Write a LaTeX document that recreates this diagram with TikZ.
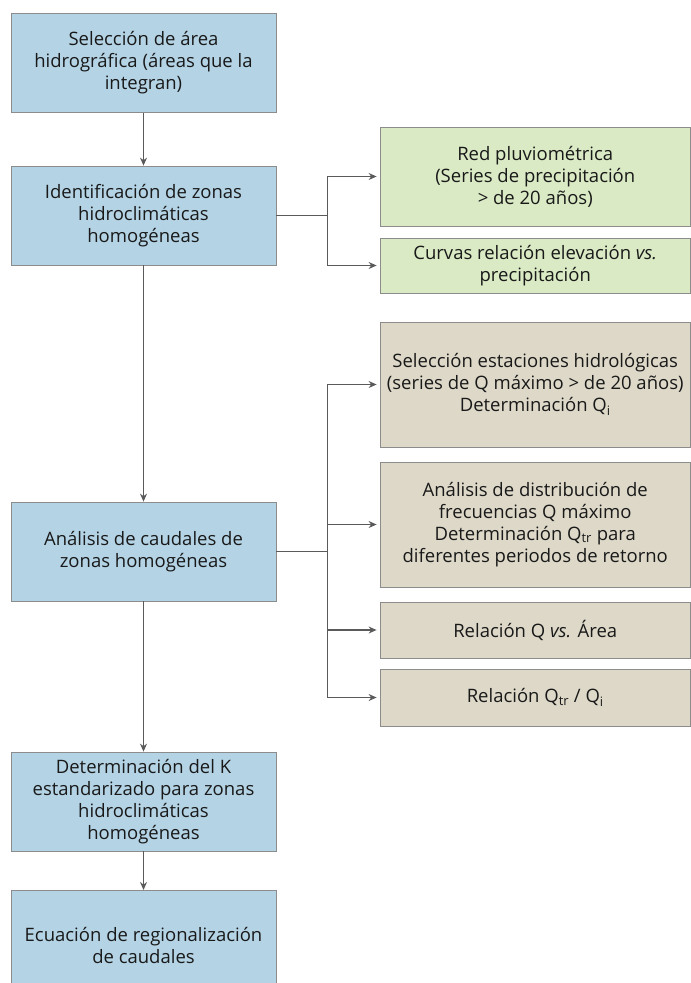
\documentclass[tikz,border=0pt]{standalone}
\usepackage{fontspec}
\setmainfont{Open Sans}
\usetikzlibrary{positioning,arrows.meta}
\definecolor{cajaazul}{RGB}{180,212,230}
\definecolor{cajaverde}{RGB}{217,234,196}
\definecolor{cajaarena}{RGB}{221,216,200}
\definecolor{borde}{RGB}{140,140,140}
\definecolor{flecha}{RGB}{90,90,90}

\begin{document}
\begin{tikzpicture}[x=1pt,y=-1pt,->,>={Stealth[length=8pt,width=7pt]},
        line width=1.1pt, flecha,
        main node/.style={draw=borde, line width=0.8pt, fill=cajaazul, text=black!90,
            rectangle, align=center, minimum width=265pt, minimum height=99pt, inner sep=0pt,
            font=\fontsize{18.5}{22}\selectfont},
        side node/.style={main node, minimum width=310.5pt}]

\clip (0,0) rectangle (691,983);

\node[main node] (1) at (143.5,63) {Selección de área\\hidrográfica (áreas que la\\integran)};
\node[main node] (2) at (143.5,215.5) {Identificación de zonas\\hidroclimáticas\\homogéneas};
\node[main node] (3) at (143.5,551.5) {Análisis de caudales de\\zonas homogéneas};
\node[main node] (4) at (143.5,801.5) {Determinación del K\\estandarizado para zonas\\hidroclimáticas\\homogéneas};
\node[main node, anchor=north, minimum height=110pt] (5) at (143.5,890) {Ecuación de regionalización\\de caudales};

\node[side node, fill=cajaverde] (6) at (535.25,176.5) {Red pluviométrica\\(Series de precipitación\\> de 20 años)};
\node[side node, fill=cajaverde, minimum height=55pt] (7) at (535.25,265.5) {Curvas relación elevación \textit{vs.}\\precipitación};

\node[side node, fill=cajaarena, minimum height=125pt] (8) at (535.25,384.5) {Selección estaciones hidrológicas\\(series de Q máximo > de 20 años)\\Determinación Q\textsubscript{i}};
\node[side node, fill=cajaarena, minimum height=125pt] (9) at (535.25,524.5) {Análisis de distribución de\\frecuencias Q máximo\\Determinación Q\textsubscript{tr} para\\diferentes periodos de retorno};
\node[side node, fill=cajaarena, minimum height=56pt] (10) at (535.25,630) {Relación Q \textit{vs.} Área};
\node[side node, fill=cajaarena, minimum height=57pt] (11) at (535.25,697.5) {Relación Q\textsubscript{tr} / Q\textsubscript{i}};

\coordinate[right=51pt of 2.east] (r1);
\coordinate[right=51pt of 3.east] (r2);

\draw (1.south) -- (2.north);
\draw (2.south) -- (3.north);
\draw (3.south) -- (4.north);
\draw (4.south) -- (5.north);

\draw[-] (2.east) -- (r1);
\draw[shorten >=3pt] (r1) |- (6.west);
\draw[shorten >=3pt] (r1) |- (7.west);

\draw[-] (3.east) -- (r2);
\draw[shorten >=3pt] (r2) |- (8.west);
\draw[shorten >=3pt] (r2) |- (9.west);
\draw[shorten >=3pt] (r2) |- (10.west);
\draw[shorten >=3pt] (r2) |- (11.west);

\end{tikzpicture}
\end{document}
